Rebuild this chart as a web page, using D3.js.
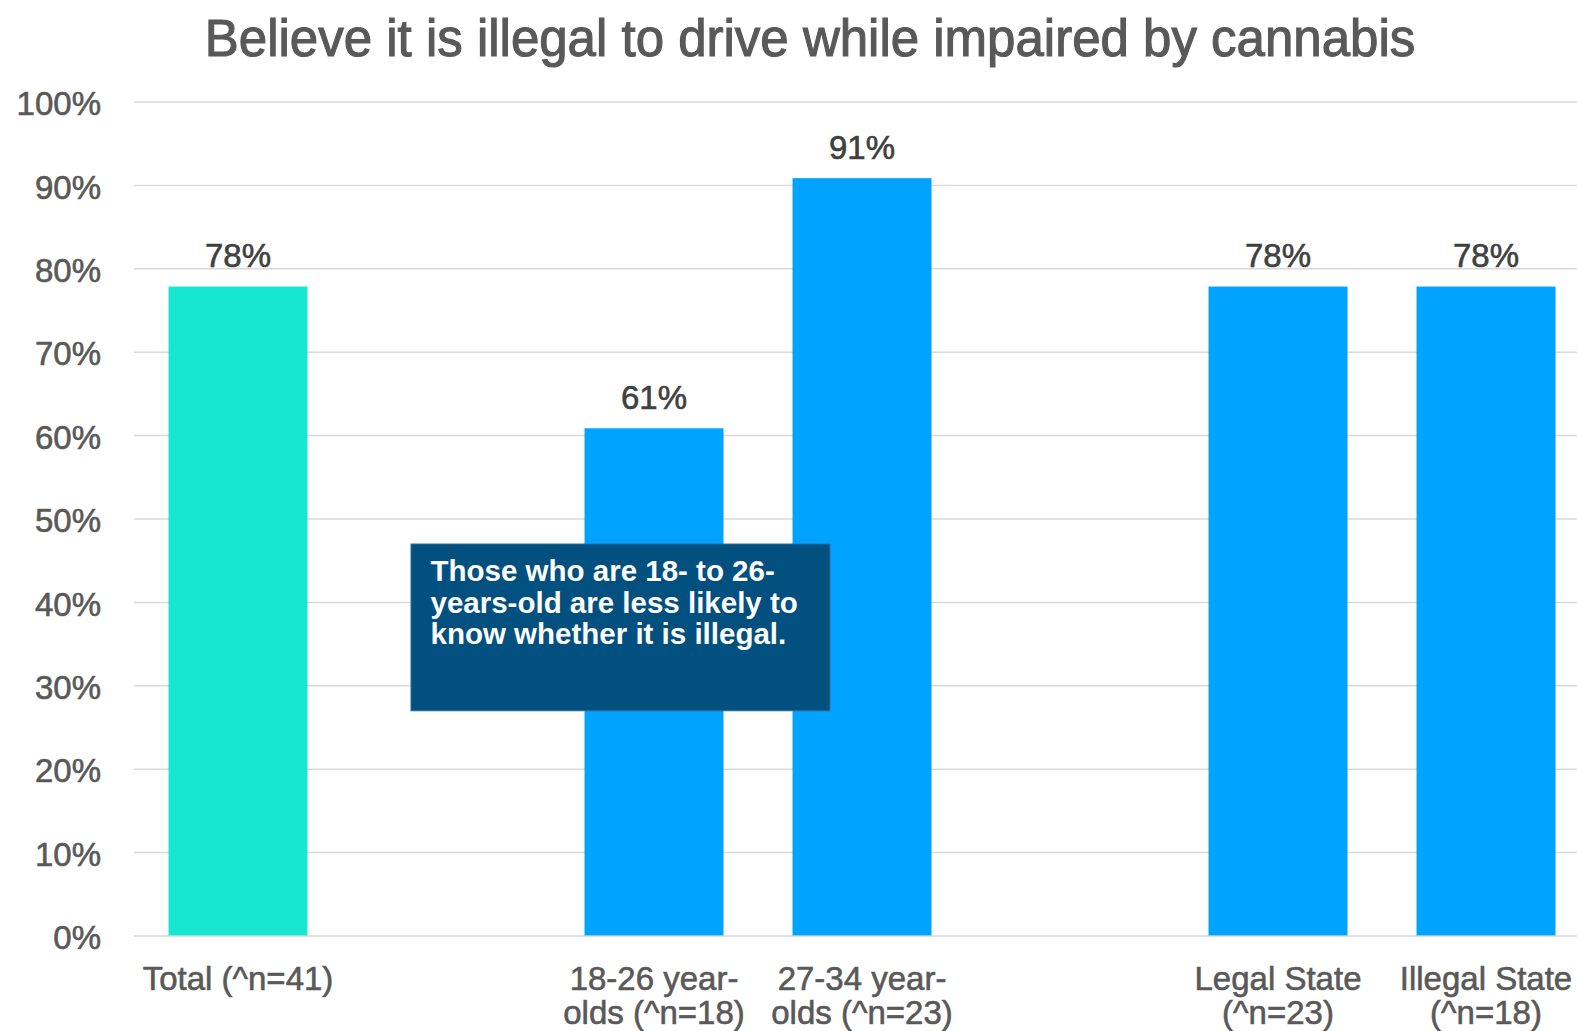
<!DOCTYPE html>
<html>
<head>
<meta charset="utf-8">
<script src="https://cdn.jsdelivr.net/npm/d3@7"></script>
<style>
  html, body { margin: 0; padding: 0; background: #ffffff; overflow: hidden; }
  svg { display: block; font-family: "Liberation Sans", Arial, Helvetica, sans-serif; }
</style>
</head>
<body>
<svg id="chart" width="1577" height="1031"></svg>
<script>
// ---- data ----
const title = "Believe it is illegal to drive while impaired by cannabis";
const categories = ["Total", "gap1", "18-26", "27-34", "gap2", "Legal State", "Illegal State"];
const values = [78, null, 61, 91, null, 78, 78];
const groups = ["total", null, "age", "age", null, "state", "state"];
const labelLines = [
  ["Total (^n=41)"],
  [],
  ["18-26 year-", "olds (^n=18)"],
  ["27-34 year-", "olds (^n=23)"],
  [],
  ["Legal State", "(^n=23)"],
  ["Illegal State", "(^n=18)"]
];
const yTicks = [0, 10, 20, 30, 40, 50, 60, 70, 80, 90, 100];
const noteLines = [
  "Those who are 18- to 26-",
  "years-old are less likely to",
  "know whether it is illegal."
];
// annotation box vertical span (in data units)
const noteBox = { yTop: 47, yBottom: 27 };

// ---- layout ----
const svg = d3.select("#chart");
const W = 1577, H = 1031;
const plotLeft = 134, step = 208;
const x = d3.scaleBand()
  .domain(categories)
  .range([plotLeft, plotLeft + step * categories.length])
  .paddingInner(0.332)
  .paddingOuter(0.166);
const y = d3.scaleLinear().domain([0, 100]).range([935.4, 101.6]);
const color = d3.scaleOrdinal().domain(["total", "age", "state"]).range(["#17E7D1", "#00A3FF", "#00A3FF"]);

// title
svg.append("text")
  .attr("x", 810).attr("y", 56)
  .attr("text-anchor", "middle")
  .attr("font-size", 51)
  .attr("fill", "#595959")
  .attr("stroke", "#595959")
  .attr("stroke-width", 1.1)
  .text(title);

// gridlines
const grid = svg.append("g").attr("transform", `translate(${plotLeft},0)`)
  .call(d3.axisLeft(y).tickValues(yTicks).tickSize(-(W - plotLeft + 10)).tickFormat(""));
grid.select(".domain").remove();
grid.selectAll("line").attr("stroke", "#d9d9d9").attr("stroke-width", 1.5);

// y axis labels
const yAxis = svg.append("g").attr("transform", `translate(${plotLeft},0)`)
  .call(d3.axisLeft(y).tickValues(yTicks).tickSize(0).tickPadding(33).tickFormat(d => d + "%"));
yAxis.select(".domain").remove();
yAxis.selectAll("text")
  .attr("font-size", 33)
  .attr("font-family", "Liberation Sans, Arial, sans-serif")
  .attr("fill", "#595959")
  .attr("stroke", "#595959")
  .attr("stroke-width", 0.6)
  .attr("dy", "0.4em");

// bars
const data = categories.map((c, i) => ({ c, v: values[i], g: groups[i] })).filter(d => d.v != null);
svg.append("g").selectAll("rect").data(data).join("rect")
  .attr("x", d => x(d.c))
  .attr("width", x.bandwidth())
  .attr("y", d => y(d.v) + 1.5)
  .attr("height", d => y(0) - y(d.v) - 1.5)
  .attr("fill", d => color(d.g));

// value labels
svg.append("g").selectAll("text").data(data).join("text")
  .attr("x", d => x(d.c) + x.bandwidth() / 2)
  .attr("y", d => y(d.v) - 18)
  .attr("text-anchor", "middle")
  .attr("font-size", 33)
  .attr("fill", "#404040")
  .attr("stroke", "#404040")
  .attr("stroke-width", 0.6)
  .text(d => d.v + "%");

// x axis labels
const xAxis = svg.append("g").attr("transform", `translate(0,${y(0)})`)
  .call(d3.axisBottom(x).tickSize(0).tickFormat(""));
xAxis.select(".domain").remove();
xAxis.selectAll(".tick").each(function(d) {
  const i = categories.indexOf(d);
  const t = d3.select(this).select("text")
    .attr("y", 0).attr("dy", null)
    .attr("font-size", 33)
    .attr("font-family", "Liberation Sans, Arial, sans-serif")
    .attr("fill", "#595959")
    .attr("stroke", "#595959")
    .attr("stroke-width", 0.6)
    .attr("text-anchor", "middle");
  labelLines[i].forEach((line, k) => {
    t.append("tspan").attr("x", 0).attr("y", 55 + k * 34).text(line);
  });
});

// annotation box
const boxLeft = 411, boxRight = 830;
const note = svg.append("g");
note.append("rect")
  .attr("x", boxLeft)
  .attr("y", y(noteBox.yTop) + 0.5)
  .attr("width", boxRight - boxLeft)
  .attr("height", y(noteBox.yBottom) - y(noteBox.yTop))
  .attr("fill", "#02507F")
  .attr("stroke", "#2e6c96")
  .attr("stroke-width", 1);
note.selectAll("text").data(noteLines).join("text")
  .attr("x", boxLeft + 19.5)
  .attr("y", (d, i) => 581 + i * 31.6)
  .attr("font-size", 29.5)
  .attr("font-weight", "bold")
  .attr("fill", "#ffffff")
  .text(d => d);
</script>
</body>
</html>
